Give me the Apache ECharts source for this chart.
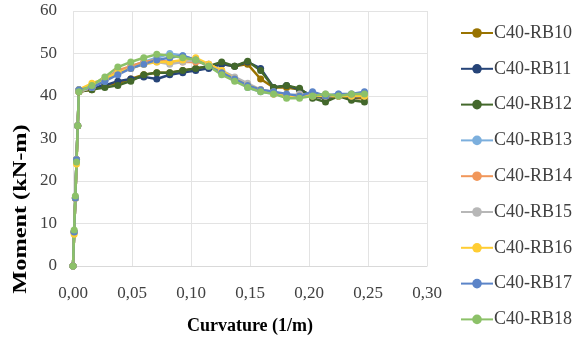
<!DOCTYPE html>
<html>
<head>
<meta charset="utf-8">
<script src="https://cdn.jsdelivr.net/npm/echarts@6/dist/echarts.min.js"></script>
<style>
  html, body { margin: 0; padding: 0; background: #fff; }
  #momentCurvature { width: 575px; height: 337px; }
</style>
</head>
<body>
<div id="momentCurvature"></div>
<script>
// curvature (1/m), shared by all specimens
var curvature = [0, 0.001, 0.002, 0.003, 0.004, 0.005,
    0.016, 0.027, 0.038, 0.049, 0.060, 0.071, 0.082, 0.093, 0.104, 0.115, 0.126,
    0.137, 0.148, 0.159, 0.170, 0.181, 0.192, 0.203, 0.214, 0.225, 0.236, 0.247];

// moment (kN-m) per specimen
var rb10 = [0, 8, 16, 25, 33, 41, 41.5, 42.5, 43, 44, 45, 45.5, 45.5, 46, 46.5, 47, 47.5, 47, 47.5, 44, 42, 42, 41.5, 40, 39.5, 40, 39.5, 39.5];
var rb11 = [0, 8, 16, 25, 33, 41.5, 42, 42.5, 43.5, 44, 44.5, 44, 45, 45.5, 46, 46.5, 47.5, 47, 48, 46.5, 42, 42.5, 41.5, 40, 39.5, 40, 39.5, 40];
var rb12 = [0, 8, 16, 25, 33, 41, 41.5, 42, 42.5, 43.5, 45, 45.5, 45.5, 46, 46.5, 47, 48, 47, 48.2, 46, 42, 42.5, 41.8, 39.5, 38.6, 40, 39, 38.6];
var rb13 = [0, 8, 16, 25, 33, 41.5, 42, 43.5, 45.5, 47, 48, 49, 50, 49.5, 48.5, 47.5, 45.5, 44, 42, 41, 40.5, 40, 40, 40.5, 40, 40.5, 40, 40.5];
var rb14 = [0, 8, 16, 25, 33, 41, 42, 44, 46, 47, 48, 48.5, 48, 48, 48, 47.5, 46, 44, 42.5, 41.5, 40.5, 40, 40, 40.5, 40, 40, 40, 40];
var rb15 = [0, 8, 16, 25, 33, 41, 42, 44, 45.5, 46.5, 47.5, 48, 47.5, 48, 48.5, 47.5, 46, 44.5, 43, 41.5, 41, 40, 40.5, 40, 40.5, 40, 40.5, 40];
var rb16 = [0, 7.5, 16, 24, 33, 41.5, 43, 44, 45.5, 46.5, 47.5, 48, 48, 48.5, 49, 47.5, 46, 44, 42.5, 41.5, 40.5, 40, 40, 40, 40, 40, 40, 40];
var rb17 = [0, 8, 16, 25, 33, 41.5, 42, 43.5, 45, 46.5, 47.5, 48.5, 49, 49.5, 48.5, 47, 45.5, 44, 42.5, 41.5, 41, 40.5, 40, 41, 40, 40.5, 40.5, 41];
var rb18 = [0, 8.5, 16.5, 24.5, 33, 41, 42.5, 44.5, 46.8, 48, 49, 49.8, 49.5, 49, 48.5, 47, 45, 43.5, 42, 41, 40.5, 39.5, 39.5, 40, 40.5, 40, 40.5, 40.5];

var seriesNames = ['C40-RB10', 'C40-RB11', 'C40-RB12', 'C40-RB13', 'C40-RB14',
    'C40-RB15', 'C40-RB16', 'C40-RB17', 'C40-RB18'];
var seriesValues = [rb10, rb11, rb12, rb13, rb14, rb15, rb16, rb17, rb18];
var seriesColors = ['#997300', '#264478', '#43682B', '#7CAFDD', '#F1975A',
    '#B7B7B7', '#FFCD33', '#5B84C8', '#8CC168'];

var chart = echarts.init(document.getElementById('momentCurvature'));

function pairs(ys) {
    var list = [];
    for (var i = 0; i < ys.length; i++) {
        list.push([curvature[i], ys[i]]);
    }
    return list;
}

var series = [];
for (var s = 0; s < seriesNames.length; s++) {
    series.push({
        name: seriesNames[s],
        type: 'line',
        data: pairs(seriesValues[s]),
        symbol: 'circle',
        symbolSize: 7,
        showSymbol: true,
        lineStyle: { width: 2.5, color: seriesColors[s] },
        itemStyle: { color: seriesColors[s] },
        animation: false
    });
}

var serif = 'Liberation Serif';

var option = {
    backgroundColor: '#fff',
    grid: { left: 73, right: 148, top: 11, bottom: 71, outerBoundsMode: 'none', containLabel: false },
    legend: {
        orient: 'vertical',
        left: 455,
        top: 19,
        itemWidth: 32,
        itemHeight: 12,
        itemGap: 17.8,
        textStyle: { fontFamily: serif, fontSize: 18, color: '#404040', padding: [0, 0, 0, -4] },
        data: seriesNames
    },
    xAxis: {
        type: 'value',
        min: 0,
        max: 0.3,
        interval: 0.05,
        name: 'Curvature (1/m)',
        nameLocation: 'middle',
        nameGap: 51,
        nameTextStyle: { fontFamily: serif, fontSize: 18, fontWeight: 'bold', color: '#000' },
        axisLine: { show: true, lineStyle: { color: '#D9D9D9' } },
        axisTick: { show: false },
        splitLine: { show: true, lineStyle: { color: '#E3E3E3' } },
        axisLabel: {
            fontFamily: serif, fontSize: 17, color: '#404040', margin: 19,
            formatter: function (v) { return v.toFixed(2).replace('.', ','); }
        }
    },
    yAxis: {
        type: 'value',
        min: 0,
        max: 60,
        interval: 10,
        axisLine: { show: false },
        axisTick: { show: false },
        splitLine: { show: true, lineStyle: { color: '#E3E3E3' } },
        axisLabel: { fontFamily: serif, fontSize: 17, color: '#404040', margin: 16 }
    },
    graphic: [{
        type: 'text',
        x: 21,
        y: 209,
        rotation: Math.PI / 2,
        scaleX: 1.35,
        style: {
            text: 'Moment (kN-m)',
            font: 'bold 18px "Liberation Serif"',
            fill: '#000',
            textAlign: 'center',
            textVerticalAlign: 'middle'
        }
    }],
    series: series
};

chart.setOption(option);

window.onresize = function () {
    chart.resize();
};
</script>
</body>
</html>
